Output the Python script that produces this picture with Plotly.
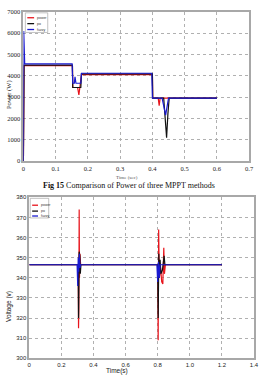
import plotly.graph_objects as go

W, H = 260, 379

names = ["power", "po", "fuzzy"]
colors = ["#e8141c", "#111111", "#1a1ad0"]

# ---- Top chart: power (W) vs time (s)
p_red_t = [0, 0.002, 0.152, 0.153, 0.168, 0.172, 0.175, 0.18, 0.4, 0.401, 0.418, 0.421, 0.424, 0.6]
p_red_v = [0, 4480, 4480, 3450, 3450, 3100, 3450, 4050, 4050, 2950, 2950, 2600, 2950, 2950]
p_blk_t = [0, 0.002, 0.152, 0.153, 0.178, 0.18, 0.4, 0.401, 0.435, 0.44, 0.444, 0.448, 0.452, 0.6]
p_blk_v = [0, 4500, 4500, 3450, 3450, 4090, 4090, 2950, 2950, 2000, 1100, 2200, 2950, 2950]
p_blu_t = [0, 0.001, 0.004, 0.151, 0.153, 0.158, 0.16, 0.163, 0.178, 0.18, 0.398, 0.4, 0.43, 0.435, 0.441, 0.446, 0.45, 0.6]
p_blu_v = [0, 6100, 4560, 4560, 3650, 3650, 3950, 3650, 3650, 4120, 4120, 2950, 2950, 2600, 2150, 2600, 2950, 2950]

# ---- Bottom chart: voltage (V) vs time (s)
v_red_t = [0, 0.305, 0.307, 0.309, 0.311, 0.313, 0.316, 0.32, 0.8, 0.803, 0.806, 0.81, 0.818, 0.825, 0.832, 0.838, 0.842, 0.848, 1.2]
v_red_v = [346.5, 346.5, 315, 325, 374, 340, 352, 346.5, 346.5, 309, 364, 340, 345, 338, 337, 355, 342, 346.5, 346.5]
v_blk_t = [0, 0.305, 0.307, 0.309, 0.311, 0.313, 0.315, 0.318, 0.322, 0.8, 0.803, 0.807, 0.81, 0.815, 0.82, 0.83, 0.84, 0.845, 1.2]
v_blk_v = [346.5, 346.5, 320, 336, 353, 338, 351, 342, 346.5, 346.5, 320, 352, 340, 349, 342, 344, 351, 346.5, 346.5]
v_blu_t = [0, 0.298, 0.302, 0.305, 0.308, 0.312, 0.316, 0.32, 0.795, 0.8, 0.805, 0.81, 0.815, 1.2]
v_blu_v = [346.5, 346.5, 336, 350, 343, 352, 345, 346.5, 346.5, 338, 348, 340, 346.5, 346.5]

top_xticks = [0, 0.1, 0.2, 0.3, 0.4, 0.5, 0.6, 0.7]
top_xlabels = ["0", "0.1", "0.2", "0.3", "0.4", "0.5", "0.6", "0.7"]
top_yticks = [0, 1000, 2000, 3000, 4000, 5000, 6000, 7000]
bot_xticks = [0, 0.2, 0.4, 0.6, 0.8, 1.0, 1.2, 1.4]
bot_xlabels = ["0", "0.2", "0.4", "0.6", "0.8", "1.0", "1.2", "1.4"]
bot_yticks = [300, 310, 320, 330, 340, 350, 360, 370, 380]

caption = "<b>Fig 15</b> Comparison of Power of three MPPT methods"


def px(x):
    return x / W


def py(y):
    return 1 - y / H


fig = go.Figure()
top_series = [(p_red_t, p_red_v), (p_blk_t, p_blk_v), (p_blu_t, p_blu_v)]
bot_series = [(v_red_t, v_red_v), (v_blk_t, v_blk_v), (v_blu_t, v_blu_v)]
for (t, v), c, n in zip(top_series, colors, names):
    fig.add_trace(go.Scatter(x=t, y=v, mode="lines", line=dict(color=c, width=1.2),
                             name=n, showlegend=False, xaxis="x", yaxis="y"))
for (t, v), c, n in zip(bot_series, colors, names):
    fig.add_trace(go.Scatter(x=t, y=v, mode="lines", line=dict(color=c, width=1.2),
                             name=n, showlegend=False, xaxis="x2", yaxis="y2"))

serif = "Liberation Serif"
sans = "Liberation Sans"
axcommon = dict(showgrid=True, gridcolor="#b0b0b0", griddash="dot", gridwidth=0.8,
                showline=True, linecolor="#a8a8a8", linewidth=1.5, mirror=True,
                zeroline=False, ticks="", ticklen=0)

fig.update_layout(
    width=W, height=H, margin=dict(l=0, r=0, t=0, b=0),
    paper_bgcolor="white", plot_bgcolor="white",
    xaxis=dict(domain=[px(22), px(254)], range=[0, 0.7], tickvals=top_xticks,
               ticktext=top_xlabels, anchor="y",
               tickfont=dict(family=serif, size=6.5, color="#222"), **axcommon),
    yaxis=dict(domain=[py(160), py(8)], range=[0, 7000], tickvals=top_yticks,
               anchor="x", tickfont=dict(family=serif, size=6.5, color="#222"), **axcommon),
    xaxis2=dict(domain=[px(28), px(259)], range=[0, 1.4], tickvals=bot_xticks,
                ticktext=bot_xlabels, anchor="y2",
                tickfont=dict(family=sans, size=6, color="#222"), **axcommon),
    yaxis2=dict(domain=[py(361), py(197)], range=[300, 380], tickvals=bot_yticks,
                anchor="x2", tickfont=dict(family=sans, size=6, color="#222"), **axcommon),
)

annotations = [
    dict(x=px(130), y=py(185), text=caption, showarrow=False, xref="paper", yref="paper",
         font=dict(family=serif, size=8, color="#111"), xanchor="center", yanchor="middle"),
    dict(x=px(128), y=py(177), text="Time (sec)", showarrow=False, xref="paper", yref="paper",
         font=dict(family=serif, size=5, color="#555"), xanchor="center", yanchor="middle"),
    dict(x=px(7), y=py(92), text="Power (W)", textangle=-90, showarrow=False,
         xref="paper", yref="paper", font=dict(family=serif, size=6.5, color="#222"),
         xanchor="center", yanchor="middle"),
    dict(x=px(118), y=py(374), text="Time(s)", showarrow=False, xref="paper", yref="paper",
         font=dict(family=sans, size=6.5, color="#222"), xanchor="center", yanchor="middle"),
    dict(x=px(8), y=py(308), text="Voltage (v)", textangle=-90, showarrow=False,
         xref="paper", yref="paper", font=dict(family=sans, size=6.5, color="#222"),
         xanchor="center", yanchor="middle"),
]

shapes = []
# manual legends (box, line samples, labels)
for (bx0, by0, bx1, by1, lx0, lx1, tx, rows) in [
    (24, 9, 47, 29, 26, 33, 34, [14, 20, 26]),
    (29, 198, 48, 218, 31, 37, 38, [205, 211, 216]),
]:
    shapes.append(dict(type="rect", xref="paper", yref="paper", x0=px(bx0), x1=px(bx1),
                       y0=py(by1), y1=py(by0), line=dict(color="#999", width=0.6),
                       fillcolor="white"))
    for r, c, n in zip(rows, colors, names):
        shapes.append(dict(type="line", xref="paper", yref="paper", x0=px(lx0), x1=px(lx1),
                           y0=py(r), y1=py(r), line=dict(color=c, width=1.3)))
        annotations.append(dict(x=px(tx), y=py(r), text=n, showarrow=False, xref="paper",
                                yref="paper", xanchor="left", yanchor="middle",
                                font=dict(family=sans, size=3.5, color="#333")))

fig.update_layout(annotations=annotations, shapes=shapes)
fig.write_html("out.html")
